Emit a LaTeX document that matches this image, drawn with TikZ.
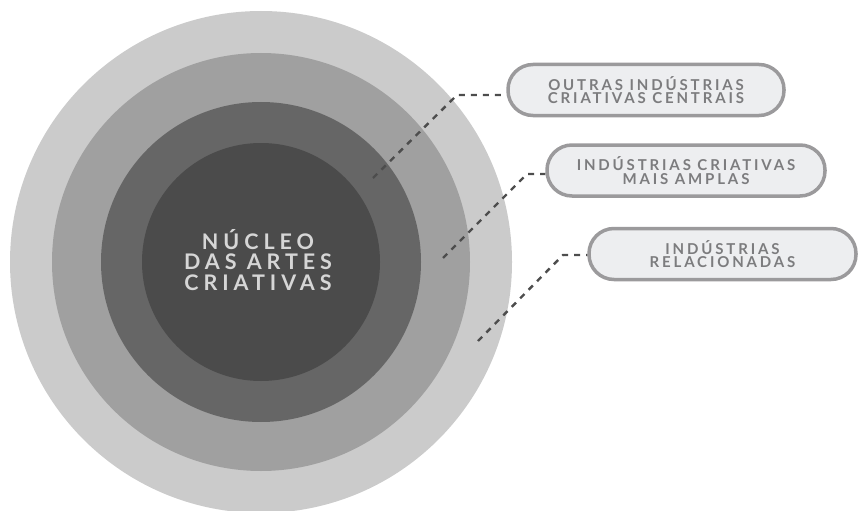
\documentclass[tikz,border=0pt]{standalone}
\usepackage{fontspec}
\setmainfont{Lato}
\newfontfamily\spacedfont{Lato}[LetterSpace=19,UprightFont=* Bold]
\newfontfamily\corefont{Lato}[LetterSpace=23,UprightFont=* Bold]
\usetikzlibrary{positioning}
\definecolor{ringa}{HTML}{CBCBCB}
\definecolor{ringb}{HTML}{A0A0A0}
\definecolor{ringc}{HTML}{666666}
\definecolor{ringd}{HTML}{4B4B4B}
\definecolor{coretxt}{HTML}{D6D6D6}
\definecolor{boxfill}{HTML}{EDEEF0}
\definecolor{boxline}{HTML}{9B9A9C}
\definecolor{boxtxt}{HTML}{7C7C7E}
\definecolor{leadcol}{HTML}{4D4D4D}
\tikzset{
	roundedbox/.style={rectangle, rounded corners=25pt, draw=boxline, fill=boxfill, line width=3.5pt, minimum height=51pt, inner sep=0pt, text=boxtxt, align=center, font=\spacedfont\fontsize{15}{13.2}\selectfont},
	coretext/.style={text=coretxt, align=center, inner sep=0pt, font=\corefont\fontsize{21.5}{20.5}\selectfont},
	leader/.style={draw=leadcol, line width=2.4pt, dash pattern=on 6pt off 6pt}
}
\begin{document}
\begin{tikzpicture}[x=1pt,y=-1pt]
	\useasboundingbox (0,0) rectangle (860,511);
	% rings
	\fill[ringa] (261,262) circle (251pt);
	\fill[ringb] (261,262) circle (209pt);
	\fill[ringc] (261,262) circle (160pt);
	\fill[ringd] (261,262) circle (119pt);
	\node[coretext] (core) at (258,260) {NÚCLEO\\DAS ARTES\\CRIATIVAS};
	
	% labels
	\node[roundedbox, minimum width=276pt] (outras) at (646,90) {OUTRAS INDÚSTRIAS\\CRIATIVAS CENTRAIS};
	\node[roundedbox, minimum width=278pt] (amplas) at (686,170.5) {INDÚSTRIAS CRIATIVAS\\MAIS AMPLAS};
	\node[roundedbox, minimum width=267pt] (relac) at (722.5,254) {INDÚSTRIAS\\RELACIONADAS};
	
	% leaders
	\coordinate (p1) at (373,178);
	\coordinate (k1) at (457,95);
	\coordinate (p2) at (443,258);
	\coordinate (k2) at (527,174);
	\coordinate (p3) at (478,341);
	\coordinate (k3) at (563,255);
	\draw[leader] (p1) -- (k1) -- (k1 -| outras.west);
	\draw[leader] (p2) -- (k2) -- (k2 -| amplas.west);
	\draw[leader] (p3) -- (k3) -- (k3 -| relac.west);
\end{tikzpicture}
\end{document}
